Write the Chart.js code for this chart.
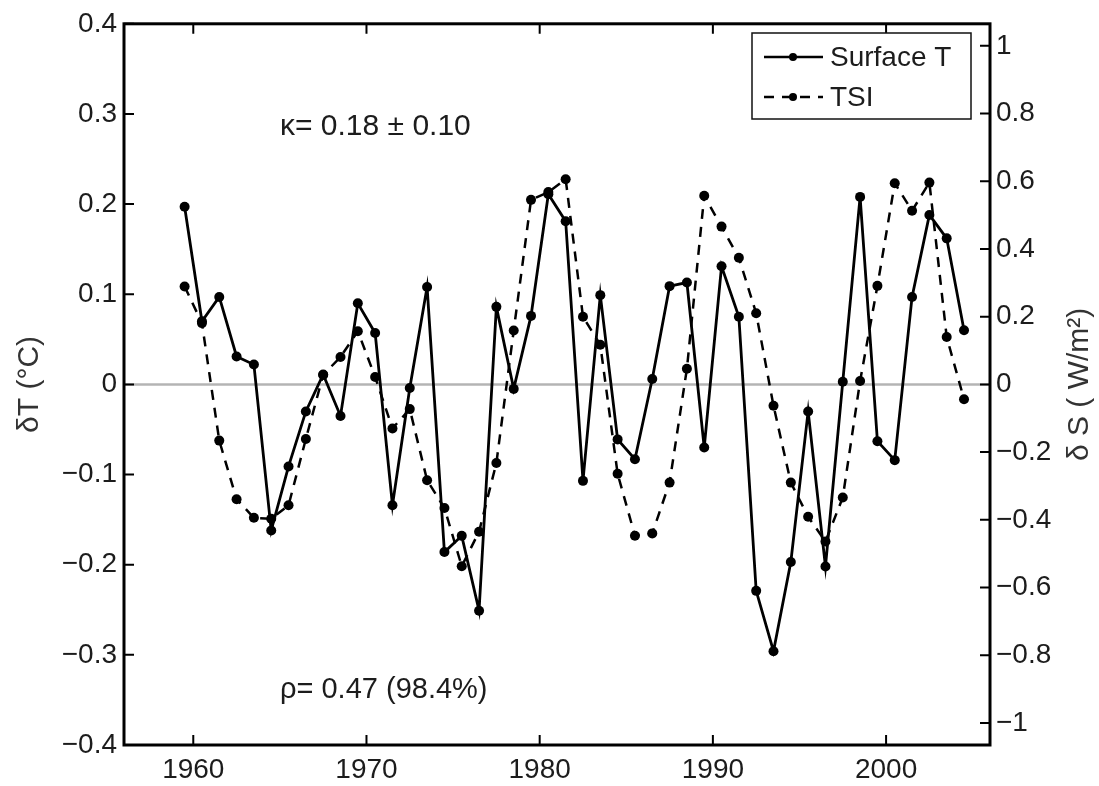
<!DOCTYPE html>
<html>
<head>
<meta charset="utf-8">
<script src="https://cdn.jsdelivr.net/npm/chart.js@4.4.1/dist/chart.umd.min.js"></script>
<style>
  html, body { margin: 0; padding: 0; background: #fff; }
  #wrap { width: 1099px; height: 786px; position: relative; }
</style>
</head>
<body>
<div id="wrap"><canvas id="chart"></canvas></div>
<script>
// years (mid-year points)
const years = [1959.5, 1960.5, 1961.5, 1962.5, 1963.5, 1964.5, 1965.5, 1966.5, 1967.5, 1968.5,
  1969.5, 1970.5, 1971.5, 1972.5, 1973.5, 1974.5, 1975.5, 1976.5, 1977.5, 1978.5,
  1979.5, 1980.5, 1981.5, 1982.5, 1983.5, 1984.5, 1985.5, 1986.5, 1987.5, 1988.5,
  1989.5, 1990.5, 1991.5, 1992.5, 1993.5, 1994.5, 1995.5, 1996.5, 1997.5, 1998.5,
  1999.5, 2000.5, 2001.5, 2002.5, 2003.5, 2004.5];

// surface temperature anomaly, deg C (left axis)
const surfaceT = [0.197, 0.070, 0.097, 0.031, 0.022, -0.162, -0.091, -0.030, 0.011, -0.035,
  0.090, 0.057, -0.134, -0.004, 0.108, -0.186, -0.168, -0.251, 0.086, -0.005,
  0.076, 0.211, 0.181, -0.107, 0.099, -0.061, -0.083, 0.006, 0.109, 0.113,
  -0.070, 0.131, 0.075, -0.229, -0.296, -0.197, -0.030, -0.202, 0.003, 0.208,
  -0.063, -0.084, 0.097, 0.188, 0.162, 0.060];

// total solar irradiance anomaly, W/m^2 (right axis)
const tsi = [0.289, 0.181, -0.166, -0.339, -0.394, -0.397, -0.357, -0.161, 0.028, 0.081,
  0.157, 0.022, -0.130, -0.073, -0.283, -0.365, -0.537, -0.435, -0.232, 0.159,
  0.545, 0.568, 0.606, 0.200, 0.117, -0.264, -0.447, -0.440, -0.290, 0.046,
  0.557, 0.466, 0.374, 0.210, -0.063, -0.290, -0.391, -0.464, -0.334, 0.010,
  0.291, 0.594, 0.513, 0.596, 0.140, -0.044];

const xTicks = [1960, 1970, 1980, 1990, 2000];
const yTicks = [-0.4, -0.3, -0.2, -0.1, 0, 0.1, 0.2, 0.3, 0.4];
const y2Ticks = [-1, -0.8, -0.6, -0.4, -0.2, 0, 0.2, 0.4, 0.6, 0.8, 1];

const FONT = "'Liberation Sans', Arial, Helvetica, sans-serif";
const TXT = '#1c1c1c';

const fmt = v => String(+v.toFixed(2)).replace('-', '\u2212');

// frame, inward ticks, zero line, legend and notes
const decor = {
  id: 'decor',
  beforeDatasetsDraw(chart) {
    const { ctx, chartArea: a, scales } = chart;
    const y0 = scales.y.getPixelForValue(0);
    ctx.save();
    ctx.strokeStyle = '#b4b4b4';
    ctx.lineWidth = 2.5;
    ctx.beginPath();
    ctx.moveTo(a.left, y0);
    ctx.lineTo(a.right, y0);
    ctx.stroke();
    ctx.restore();
  },
  afterDatasetsDraw(chart) {
    const { ctx, chartArea: a, scales } = chart;
    const tl = 10;
    ctx.save();
    ctx.strokeStyle = '#000';
    ctx.lineWidth = 2;
    ctx.beginPath();
    xTicks.forEach(v => {
      const px = scales.x.getPixelForValue(v);
      ctx.moveTo(px, a.bottom); ctx.lineTo(px, a.bottom - tl);
      ctx.moveTo(px, a.top); ctx.lineTo(px, a.top + tl);
    });
    yTicks.forEach(v => {
      const py = scales.y.getPixelForValue(v);
      ctx.moveTo(a.left, py); ctx.lineTo(a.left + tl, py);
    });
    y2Ticks.forEach(v => {
      const py = scales.y2.getPixelForValue(v);
      ctx.moveTo(a.right, py); ctx.lineTo(a.right - tl, py);
    });
    ctx.stroke();
    ctx.lineWidth = 3;
    ctx.strokeRect(a.left, a.top, a.width, a.height);

    // legend
    const lx = 752, ly = 33, lw = 219, lh = 86;
    ctx.fillStyle = '#fff';
    ctx.fillRect(lx, ly, lw, lh);
    ctx.lineWidth = 1.5;
    ctx.strokeStyle = '#111';
    ctx.strokeRect(lx, ly, lw, lh);
    chart.data.datasets.forEach((ds, i) => {
      const yy = ly + 24 + i * 40;
      ctx.strokeStyle = '#000';
      ctx.lineWidth = 2.5;
      ctx.setLineDash(ds.borderDash || []);
      ctx.beginPath();
      ctx.moveTo(764, yy); ctx.lineTo(823, yy);
      ctx.stroke();
      ctx.setLineDash([]);
      ctx.fillStyle = '#000';
      ctx.beginPath();
      ctx.arc(793, yy, 4, 0, Math.PI * 2);
      ctx.fill();
      ctx.fillStyle = TXT;
      ctx.font = `28px ${FONT}`;
      ctx.textAlign = 'left';
      ctx.textBaseline = 'middle';
      ctx.fillText(ds.label, 830, yy + 1);
    });

    // notes
    ctx.fillStyle = TXT;
    ctx.font = `30px ${FONT}`;
    ctx.textAlign = 'left';
    ctx.textBaseline = 'middle';
    ctx.fillText('\u03ba= 0.18 \u00b1 0.10', 280, 127);
    ctx.font = `29px ${FONT}`;
    ctx.fillText('\u03c1= 0.47 (98.4%)', 280, 690);

    // axis titles
    ctx.fillStyle = '#333';
    ctx.font = `30px ${FONT}`;
    ctx.textAlign = 'center';
    ctx.save();
    ctx.translate(30, scales.y.getPixelForValue(0));
    ctx.rotate(-Math.PI / 2);
    ctx.fillText('\u03b4T (\u00b0C)', 0, 0);
    ctx.restore();
    ctx.save();
    ctx.translate(1080, scales.y.getPixelForValue(0));
    ctx.rotate(-Math.PI / 2);
    ctx.fillText('\u03b4 S ( W/m\u00b2)', 0, 0);
    ctx.restore();
    ctx.restore();
  }
};

new Chart(document.getElementById('chart'), {
  type: 'line',
  data: {
    datasets: [
      {
        label: 'Surface T',
        data: years.map((x, i) => ({ x, y: surfaceT[i] })),
        yAxisID: 'y',
        borderColor: '#000',
        backgroundColor: '#000',
        borderWidth: 2.8,
        pointRadius: 5,
        pointBorderWidth: 0,
        tension: 0
      },
      {
        label: 'TSI',
        data: years.map((x, i) => ({ x, y: tsi[i] })),
        yAxisID: 'y2',
        borderColor: '#000',
        backgroundColor: '#000',
        borderWidth: 2.5,
        borderDash: [10, 8],
        pointRadius: 5,
        pointBorderWidth: 0,
        tension: 0
      }
    ]
  },
  options: {
    responsive: true,
    maintainAspectRatio: false,
    animation: false,
    layout: { padding: { left: 0, right: 0, top: 19, bottom: 0 } },
    plugins: {
      legend: { display: false },
      tooltip: { enabled: false }
    },
    scales: {
      x: {
        type: 'linear',
        min: 1956,
        max: 2006,
        afterBuildTicks: s => { s.ticks = xTicks.map(value => ({ value })); },
        afterFit: s => { s.height = 41; },
        grid: { display: false, drawTicks: false },
        border: { display: false },
        ticks: { color: TXT, padding: 8, font: { family: FONT, size: 28 }, callback: v => String(v) }
      },
      y: {
        position: 'left',
        min: -0.4,
        max: 0.4,
        afterBuildTicks: s => { s.ticks = yTicks.map(value => ({ value })); },
        afterFit: s => { s.width = 124; },
        grid: { display: false, drawTicks: false },
        border: { display: false },
        ticks: { color: TXT, padding: 7, font: { family: FONT, size: 28 }, callback: fmt }
      },
      y2: {
        position: 'right',
        min: -1.065,
        max: 1.065,
        afterBuildTicks: s => { s.ticks = y2Ticks.map(value => ({ value })); },
        afterFit: s => { s.width = 109; },
        grid: { display: false, drawTicks: false },
        border: { display: false },
        ticks: { color: TXT, padding: 6, font: { family: FONT, size: 28 }, callback: fmt }
      }
    }
  },
  plugins: [decor]
});
</script>
</body>
</html>
